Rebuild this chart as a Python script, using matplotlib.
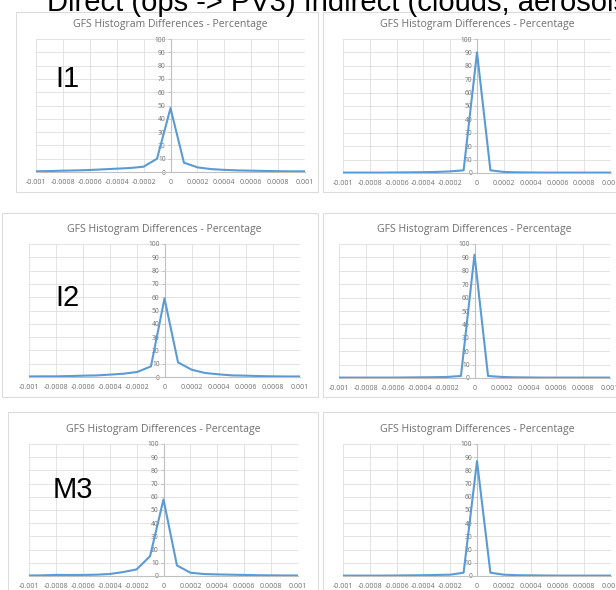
import matplotlib.pyplot as plt
from matplotlib.patches import Rectangle

# Canvas size in pixels (dpi 100)
W, H = 616, 590

# Histogram bins (difference values)
x_bins = [-0.001, -0.0009, -0.0008, -0.0007, -0.0006, -0.0005, -0.0004, -0.0003, -0.0002, -0.0001, 0.0,
          0.0001, 0.0002, 0.0003, 0.0004, 0.0005, 0.0006, 0.0007, 0.0008, 0.0009, 0.001]

# Percentages
i1_direct = [0.5, 0.7, 1.0, 1.2, 1.5, 2.0, 2.5, 3.0, 4.0, 10.0, 48.0,
             7.0, 3.5, 2.2, 1.6, 1.2, 1.0, 0.8, 0.6, 0.5, 0.5]
i1_indirect = [0.3, 0.3, 0.3, 0.3, 0.4, 0.5, 0.6, 0.8, 1.2, 2.0, 90.0,
               2.0, 0.8, 0.5, 0.4, 0.3, 0.3, 0.3, 0.3, 0.3, 0.3]
i2_direct = [0.4, 0.5, 0.5, 0.7, 1.0, 1.2, 1.8, 2.5, 3.8, 8.0, 59.0,
             11.0, 5.5, 3.0, 2.0, 1.2, 1.0, 0.7, 0.5, 0.4, 0.4]
i2_indirect = [0.3, 0.3, 0.3, 0.3, 0.3, 0.4, 0.5, 0.6, 0.8, 1.5, 92.0,
               1.5, 0.8, 0.5, 0.4, 0.3, 0.3, 0.3, 0.3, 0.3, 0.3]
m3_direct = [0.4, 0.5, 0.8, 0.8, 0.8, 1.0, 1.5, 3.0, 5.0, 15.0, 58.0,
             8.0, 2.5, 1.5, 1.2, 1.0, 0.8, 0.6, 0.5, 0.4, 0.4]
m3_indirect = [0.3, 0.3, 0.3, 0.3, 0.4, 0.5, 0.6, 0.8, 1.0, 2.5, 87.0,
               2.5, 1.0, 0.6, 0.5, 0.4, 0.3, 0.3, 0.3, 0.3, 0.3]

x_ticks = [-0.001, -0.0008, -0.0006, -0.0004, -0.0002, 0, 0.0002, 0.0004, 0.0006, 0.0008, 0.001]
x_labels = ['-0.001', '-0.0008', '-0.0006', '-0.0004', '-0.0002', '0',
            '0.0002', '0.0004', '0.0006', '0.0008', '0.001']
y_ticks = [0, 10, 20, 30, 40, 50, 60, 70, 80, 90, 100]

chart_title = 'GFS Histogram Differences - Percentage'

fig = plt.figure(figsize=(W / 100, H / 100), dpi=100)
fig.patch.set_facecolor('white')


def px_rect(l, r, t, b):
    return [l / W, 1 - b / H, (r - l) / W, (b - t) / H]


def draw_panel(box, area, values):
    # light frame around each Excel chart
    bl, br, bt, bb = box
    fig.add_artist(Rectangle((bl / W, 1 - bb / H), (br - bl) / W, (bb - bt) / H,
                             transform=fig.transFigure, fill=False,
                             edgecolor='#dcdcdc', linewidth=0.8))

    ax = fig.add_axes(px_rect(*area))
    ax.plot(x_bins, values, color='#5b9bd5', linewidth=1.5, zorder=3)
    ax.set_xlim(-0.001, 0.001)
    ax.set_ylim(0, 100)
    ax.set_xticks(x_ticks)
    ax.set_xticklabels(x_labels)
    ax.set_yticks(y_ticks)
    ax.grid(color='#dedede', linewidth=0.6)
    ax.set_axisbelow(True)

    for side in ['top', 'right']:
        ax.spines[side].set_visible(False)
    ax.spines['left'].set_position(('data', 0))
    ax.spines['left'].set_color('#c0c0c0')
    ax.spines['bottom'].set_color('#c0c0c0')
    ax.spines['left'].set_linewidth(0.8)
    ax.spines['bottom'].set_linewidth(0.8)

    ax.tick_params(axis='x', length=0, pad=5, labelsize=5.0, labelcolor='#6f6f6f')
    ax.tick_params(axis='y', length=2, width=0.6, color='#c0c0c0', pad=1.5,
                   labelsize=4.8, labelcolor='#6f6f6f')
    for lab in ax.get_xticklabels() + ax.get_yticklabels():
        lab.set_fontfamily('Open Sans')

    ax.set_title(chart_title, fontsize=7.6, color='#707070', pad=8.5,
                 fontfamily='Open Sans')
    return ax


# (box l, r, t, b), (plot area l, r, t, b) in pixels
draw_panel((16, 318, 12, 192), (36, 305, 39, 172), i1_direct)
draw_panel((323, 625, 12, 192), (343, 611, 39, 173), i1_indirect)
draw_panel((2, 318, 213, 397), (29, 300, 244, 377), i2_direct)
draw_panel((323, 625, 213, 397), (339, 610, 244, 378), i2_indirect)
draw_panel((8, 318, 412, 595), (29, 298, 444, 576), m3_direct)
draw_panel((323, 625, 412, 595), (343, 611, 444, 576), m3_indirect)

# Band labels
for txt, xp, yp in [('I1', 55, 87), ('I2', 55, 306), ('M3', 53, 498)]:
    fig.text(xp / W, 1 - yp / H, txt, fontsize=21, family='Liberation Sans',
             ha='left', va='baseline', color='black')

# Column heading, cut off at the top of the slide
fig.text(47 / W, 1 - 11 / H, 'Direct (ops -> PV3) Indirect (clouds, aerosols)',
         fontsize=21, family='Liberation Sans', ha='left', va='baseline', color='black')

fig.savefig('out.png', dpi=100)
